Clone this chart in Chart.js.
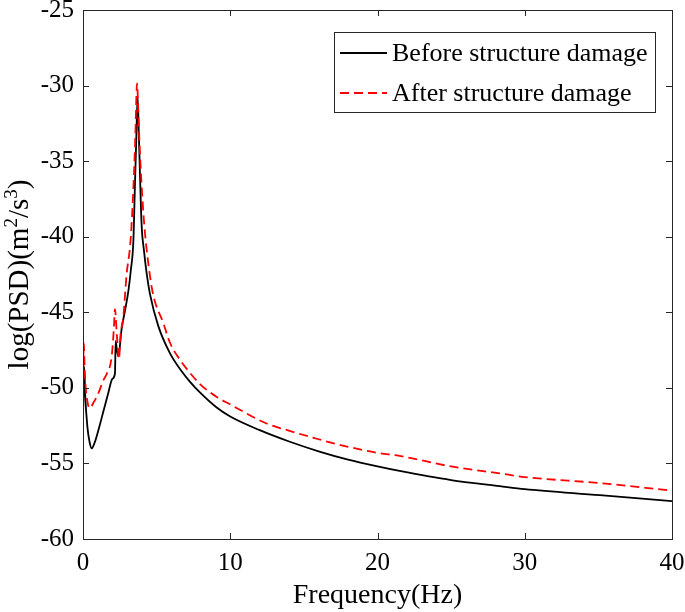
<!DOCTYPE html>
<html>
<head>
<meta charset="utf-8">
<script src="https://cdn.jsdelivr.net/npm/chart.js@4.4.1/dist/chart.umd.min.js"></script>
<style>
  html, body { margin: 0; padding: 0; background: white; }
  #wrap { width: 685px; height: 612px; }
</style>
</head>
<body>
<div id="wrap"><canvas id="psdChart"></canvas></div>
<script>
// frequency (Hz) and log(PSD)
const freqBefore = [0, 0.08, 0.15, 0.3, 0.45, 0.59, 0.8, 1.1, 1.4, 1.7, 2.0, 2.17, 2.22, 2.3, 2.4, 2.63, 2.85, 3.08, 3.25, 3.42, 3.53, 3.62, 3.71, 3.8, 3.87, 3.98, 4.15, 4.32, 4.55, 5.11, 5.9, 6.7, 7.27, 7.94, 9.08, 10, 12, 14, 16, 18, 20, 21.5, 25, 28.3, 30, 35.1, 40];
const psdBefore = [-52.0, -48.6, -50.5, -52.6, -53.6, -54.0, -53.6, -52.6, -51.5, -50.4, -49.4, -49.05, -46.9, -47.5, -47.9, -46.05, -44.9, -43.6, -42.2, -40.3, -36.5, -33.5, -30.74, -33.5, -35.9, -39.2, -41.0, -42.4, -43.8, -45.9, -47.7, -48.9, -49.6, -50.3, -51.3, -51.9, -52.8, -53.55, -54.2, -54.75, -55.2, -55.5, -56.1, -56.5, -56.7, -57.1, -57.5];

const freqAfter = [0, 0.05, 0.12, 0.3, 0.47, 0.7, 1.04, 1.38, 1.6, 1.95, 2.1, 2.17, 2.3, 2.44, 2.55, 2.74, 2.96, 3.19, 3.3, 3.46, 3.55, 3.67, 3.78, 3.94, 4.16, 4.55, 4.78, 5.45, 5.9, 6.7, 7.26, 7.94, 9.08, 10, 12.47, 13.7, 16, 18, 20, 21.5, 25, 28.3, 30, 35.1, 40];
const psdAfter = [-49.8, -47.0, -49.0, -50.9, -51.35, -51.0, -50.37, -49.5, -49.1, -47.9, -46.0, -44.8, -46.5, -48.1, -46.5, -45.3, -42.5, -40.7, -39.2, -35.9, -33.5, -29.85, -32.5, -35.9, -39.2, -42.6, -43.9, -45.7, -47.0, -48.3, -49.0, -49.75, -50.6, -51.1, -52.36, -52.75, -53.4, -53.9, -54.3, -54.5, -55.2, -55.66, -55.9, -56.3, -56.8];

const seriesLabels = ['Before structure damage', 'After structure damage'];
const xTicks = [0, 10, 20, 30, 40];
const yTicks = [-60, -55, -50, -45, -40, -35, -30, -25];

const FONT = '"Liberation Serif", "Times New Roman", serif';

const toPoints = (xs, ys) => xs.map((x, i) => ({ x: x, y: ys[i] }));

// axes box with inward ticks on all four sides
const boxTicks = {
    id: 'boxTicks',
    afterDraw(chart) {
        const { ctx, chartArea: a, scales } = chart;
        ctx.save();
        ctx.strokeStyle = '#262626';
        ctx.lineWidth = 1;
        ctx.strokeRect(a.left + 0.5, a.top + 0.5, a.right - a.left, a.bottom - a.top);
        ctx.beginPath();
        const len = 6;
        xTicks.forEach(v => {
            const px = Math.round(scales.x.getPixelForValue(v)) + 0.5;
            ctx.moveTo(px, a.bottom); ctx.lineTo(px, a.bottom - len);
            ctx.moveTo(px, a.top); ctx.lineTo(px, a.top + len);
        });
        yTicks.forEach(v => {
            const py = Math.round(scales.y.getPixelForValue(v)) + 0.5;
            ctx.moveTo(a.left, py); ctx.lineTo(a.left + len, py);
            ctx.moveTo(a.right, py); ctx.lineTo(a.right - len, py);
        });
        ctx.stroke();
        ctx.restore();
    }
};

// y title with real superscripts: log(PSD)(m^2/s^3)
const yTitle = {
    id: 'yTitle',
    afterDraw(chart) {
        const { ctx, chartArea: a } = chart;
        const parts = [['log(PSD)(m', false], ['2', true], ['/s', false], ['3', true], [')', false]];
        const big = '29px ' + FONT, small = '19px ' + FONT;
        ctx.save();
        let total = 0;
        parts.forEach(p => { ctx.font = p[1] ? small : big; total += ctx.measureText(p[0]).width; });
        ctx.translate(28, (a.top + a.bottom) / 2);
        ctx.rotate(-Math.PI / 2);
        ctx.fillStyle = 'black';
        ctx.textBaseline = 'alphabetic';
        let x = -total / 2;
        parts.forEach(p => {
            ctx.font = p[1] ? small : big;
            ctx.fillText(p[0], x, p[1] ? -11 : 0);
            x += ctx.measureText(p[0]).width;
        });
        ctx.restore();
    }
};

// legend box in the top right corner
const boxLegend = {
    id: 'boxLegend',
    afterDraw(chart) {
        const { ctx } = chart;
        const x0 = 334, y0 = 32, w = 321, h = 80;
        ctx.save();
        ctx.fillStyle = 'white';
        ctx.fillRect(x0, y0, w, h);
        ctx.strokeStyle = '#262626';
        ctx.lineWidth = 1;
        ctx.strokeRect(x0 + 0.5, y0 + 0.5, w, h);
        ctx.font = '26px ' + FONT;
        ctx.textBaseline = 'middle';
        chart.data.datasets.forEach((ds, i) => {
            const ly = y0 + 21 + i * 40;
            ctx.beginPath();
            ctx.strokeStyle = ds.borderColor;
            ctx.lineWidth = ds.borderWidth;
            ctx.setLineDash(ds.borderDash || []);
            ctx.moveTo(x0 + 6, ly);
            ctx.lineTo(x0 + 53, ly);
            ctx.stroke();
            ctx.setLineDash([]);
            ctx.fillStyle = 'black';
            ctx.fillText(ds.label, x0 + 58, ly + 1);
        });
        ctx.restore();
    }
};

new Chart(document.getElementById('psdChart'), {
    type: 'line',
    data: {
        datasets: [{
            label: seriesLabels[0],
            data: toPoints(freqBefore, psdBefore),
            borderColor: 'black',
            borderWidth: 1.8,
            pointRadius: 0,
            cubicInterpolationMode: 'monotone',
            order: 1
        }, {
            label: seriesLabels[1],
            data: toPoints(freqAfter, psdAfter),
            borderColor: 'rgb(255,0,0)',
            borderWidth: 1.8,
            borderDash: [9, 5],
            pointRadius: 0,
            cubicInterpolationMode: 'monotone',
            order: 0
        }]
    },
    options: {
        responsive: true,
        maintainAspectRatio: false,
        animation: false,
        layout: { padding: { top: 10, right: 13, left: 0, bottom: 0 } },
        plugins: {
            legend: { display: false },
            tooltip: { enabled: false }
        },
        scales: {
            x: {
                type: 'linear',
                min: 0,
                max: 40,
                afterBuildTicks: s => { s.ticks = xTicks.map(v => ({ value: v })); },
                afterFit: s => { s.height = 73; s.paddingLeft = 0; s.paddingRight = 0; },
                grid: { display: false, drawTicks: false },
                border: { display: false },
                ticks: { color: 'black', padding: 9, maxRotation: 0, font: { family: FONT, size: 25 } },
                title: {
                    display: true,
                    text: 'Frequency(Hz)',
                    color: 'black',
                    padding: { top: 0, bottom: 0 },
                    font: { family: FONT, size: 28 }
                }
            },
            y: {
                min: -60,
                max: -25,
                afterBuildTicks: s => { s.ticks = yTicks.map(v => ({ value: v })); },
                afterFit: s => { s.width = 83; s.paddingTop = 0; s.paddingBottom = 0; },
                grid: { display: false, drawTicks: false },
                border: { display: false },
                ticks: { color: 'black', padding: 9, font: { family: FONT, size: 25 } },
                title: { display: false }
            }
        }
    },
    plugins: [boxTicks, yTitle, boxLegend]
});
</script>
</body>
</html>
